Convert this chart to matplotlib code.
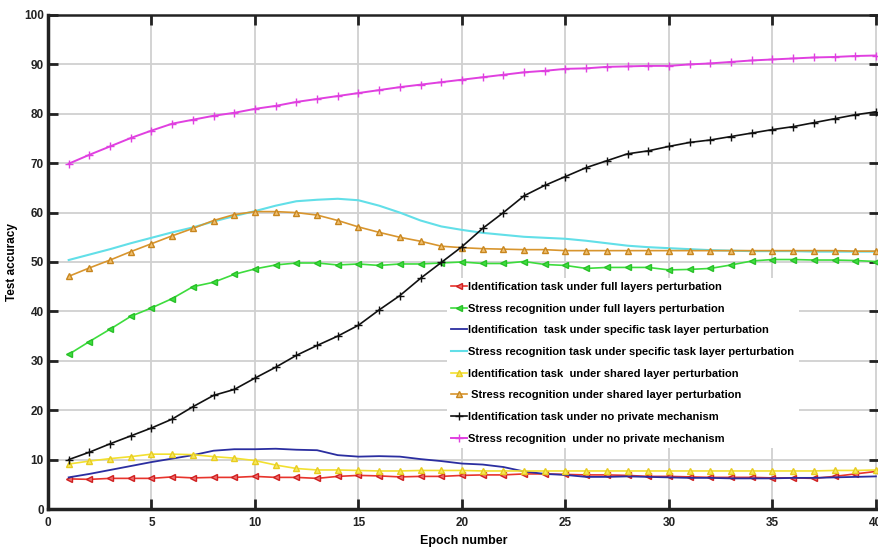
import numpy as np
import matplotlib.pyplot as plt

epochs = np.arange(1, 41)

# Identification task under full layers perturbation
id_full = [6.1, 6.0, 6.2, 6.2, 6.2, 6.5, 6.3, 6.4, 6.4, 6.6,
           6.4, 6.4, 6.2, 6.6, 6.8, 6.7, 6.5, 6.6, 6.6, 6.8,
           6.9, 6.9, 7.1, 7.1, 7.0, 6.9, 6.9, 6.8, 6.6, 6.6,
           6.5, 6.4, 6.4, 6.4, 6.3, 6.3, 6.2, 6.6, 7.1, 7.6]
# Stress recognition under full layers perturbation
st_full = [31.3, 33.9, 36.4, 39.0, 40.7, 42.6, 45.0, 45.9, 47.5, 48.6,
           49.4, 49.8, 49.8, 49.4, 49.6, 49.3, 49.6, 49.6, 49.8, 50.0,
           49.7, 49.7, 50.1, 49.5, 49.3, 48.7, 48.9, 48.9, 48.9, 48.4,
           48.5, 48.7, 49.4, 50.2, 50.5, 50.5, 50.4, 50.4, 50.3, 50.1]
# Identification task under specific task layer perturbation
id_spec = [6.4, 7.1, 7.9, 8.7, 9.5, 10.2, 10.9, 11.8, 12.1, 12.1,
           12.2, 12.0, 11.9, 10.9, 10.6, 10.7, 10.6, 10.1, 9.7, 9.2,
           9.0, 8.5, 7.6, 7.1, 6.9, 6.5, 6.5, 6.6, 6.5, 6.4,
           6.3, 6.3, 6.2, 6.2, 6.2, 6.3, 6.3, 6.4, 6.5, 6.6]
# Stress recognition task under specific task layer perturbation
st_spec = [50.4, 51.5, 52.6, 53.8, 54.9, 56.0, 57.0, 58.2, 59.3, 60.3,
           61.4, 62.3, 62.6, 62.8, 62.5, 61.4, 60.0, 58.4, 57.2, 56.5,
           55.9, 55.5, 55.1, 54.9, 54.7, 54.3, 53.8, 53.3, 53.0, 52.8,
           52.6, 52.4, 52.3, 52.2, 52.2, 52.2, 52.1, 52.1, 52.1, 52.1]
# Identification task under shared layer perturbation
id_shared = [9.1, 9.7, 10.2, 10.6, 11.1, 11.1, 11.0, 10.6, 10.3, 9.8,
             8.9, 8.2, 7.9, 7.9, 7.8, 7.7, 7.7, 7.8, 7.8, 7.8,
             7.7, 7.7, 7.7, 7.7, 7.7, 7.7, 7.7, 7.7, 7.7, 7.7,
             7.7, 7.7, 7.7, 7.7, 7.7, 7.7, 7.7, 7.8, 7.8, 7.9]
# Stress recognition under shared layer perturbation
st_shared = [47.1, 48.8, 50.4, 52.1, 53.7, 55.3, 56.8, 58.4, 59.6, 60.2,
             60.2, 60.0, 59.5, 58.4, 57.1, 56.0, 55.0, 54.2, 53.2, 52.9,
             52.7, 52.6, 52.5, 52.5, 52.3, 52.3, 52.3, 52.3, 52.3, 52.3,
             52.3, 52.3, 52.3, 52.3, 52.3, 52.3, 52.3, 52.3, 52.2, 52.2]
# Identification task under no private mechanism
id_none = [10.0, 11.5, 13.2, 14.8, 16.4, 18.2, 20.7, 23.0, 24.2, 26.5,
           28.7, 31.1, 33.1, 35.0, 37.2, 40.3, 43.2, 46.7, 49.9, 53.1,
           56.8, 60.0, 63.4, 65.5, 67.3, 69.1, 70.5, 71.9, 72.5, 73.4,
           74.2, 74.7, 75.4, 76.1, 76.8, 77.4, 78.2, 79.0, 79.8, 80.4]
# Stress recognition under no private mechanism
st_none = [69.9, 71.7, 73.4, 75.1, 76.6, 78.0, 78.8, 79.6, 80.2, 81.0,
           81.6, 82.4, 83.0, 83.6, 84.2, 84.8, 85.4, 85.9, 86.4, 86.9,
           87.4, 87.9, 88.4, 88.7, 89.1, 89.2, 89.5, 89.6, 89.7, 89.7,
           90.0, 90.2, 90.5, 90.8, 91.0, 91.2, 91.4, 91.5, 91.7, 91.8]

labels = [
    'Identification task under full layers perturbation',
    'Stress recognition under full layers perturbation',
    'Identification  task under specific task layer perturbation',
    'Stress recognition task under specific task layer perturbation',
    'Identification task  under shared layer perturbation',
    ' Stress recognition under shared layer perturbation',
    'Identification task under no private mechanism',
    'Stress recognition  under no private mechanism',
]

plt.rcParams['font.family'] = ['Liberation Sans', 'DejaVu Sans']

fig = plt.figure(figsize=(8.79, 5.48), dpi=100)
ax = fig.add_axes([48 / 879, 1 - 509 / 548, 1 - 48 / 879, (509 - 15) / 548])

ax.plot(epochs, id_full, color='#e8342c', marker='<', ms=5, mfc='#f07070', mec='#d02020', lw=1.2, label=labels[0])
ax.plot(epochs, st_full, color='#3ddc3d', marker='<', ms=5, mfc='#40e040', mec='#28c028', lw=1.2, label=labels[1])
ax.plot(epochs, id_spec, color='#2b2ea0', lw=1.3, label=labels[2])
ax.plot(epochs, st_spec, color='#62dfe8', lw=1.5, label=labels[3])
ax.plot(epochs, id_shared, color='#f2e030', marker='^', ms=5, mfc='#f5e860', mec='#e8cc20', lw=1.2, label=labels[4])
ax.plot(epochs, st_shared, color='#d8952e', marker='^', ms=5, mfc='#f0c070', mec='#c8861e', lw=1.2, label=labels[5])
ax.plot(epochs, id_none, color='#111111', marker='+', ms=6, mew=1.0, lw=1.2, label=labels[6])
ax.plot(epochs, st_none, color='#e040e0', marker='+', ms=6, mew=1.0, lw=1.4, label=labels[7])

ax.set_xlim(0, 40.15)
ax.set_ylim(0, 100)
ax.set_xticks(np.arange(0, 45, 5))
ax.set_yticks(np.arange(0, 110, 10))
ax.grid(True, color='#d0d0d0', lw=1.3)
ax.set_axisbelow(True)
ax.tick_params(direction='in', length=7, width=2, top=True, right=True, labelsize=8.5, colors='#222222')
ax.tick_params(axis='x', pad=6)
ax.tick_params(axis='y', pad=3)
for lab in ax.get_xticklabels() + ax.get_yticklabels():
    lab.set_fontweight('bold')
ax.spines['left'].set_linewidth(2.5)
ax.spines['bottom'].set_linewidth(2.5)
ax.spines['top'].set_linewidth(1.8)
ax.spines['right'].set_linewidth(1.8)
for s in ax.spines.values():
    s.set_color('#222222')

ax.set_xlabel('Epoch number', fontsize=9, fontweight='bold', labelpad=4)
ax.set_ylabel('Test accuracy', fontsize=8.5, fontweight='bold', labelpad=4)

leg = fig.legend(loc='upper left', bbox_to_anchor=(441 / 879, 1 - 272 / 548),
                 frameon=True, fancybox=False, edgecolor='none', framealpha=1.0,
                 handlelength=1.4, handletextpad=0.15, labelspacing=1.05, borderpad=0.4,
                 prop={'weight': 'bold', 'size': 8})

fig.savefig('out.png', dpi=100)
